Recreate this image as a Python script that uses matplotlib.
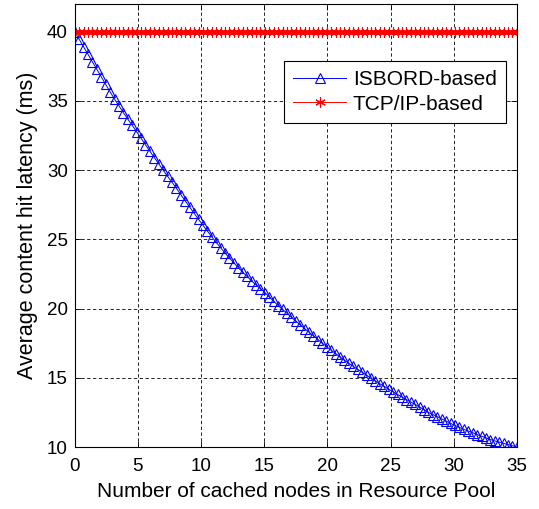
import numpy as np
import matplotlib
matplotlib.use("Agg")
import matplotlib.pyplot as plt

plt.rcParams["font.family"] = ["Liberation Sans", "DejaVu Sans"]

# cached nodes, 101 samples from 0 to 35
nodes = np.linspace(0, 35, 101)

isbord_latency = [
    40.00, 39.46, 38.92, 38.37, 37.83, 37.29, 36.75, 36.20, 35.66, 35.14,
    34.65, 34.16, 33.69, 33.24, 32.78, 32.31, 31.84, 31.37, 30.91, 30.46,
    30.00, 29.56, 29.13, 28.69, 28.23, 27.78, 27.33, 26.89, 26.45, 26.02,
    25.60, 25.18, 24.78, 24.40, 24.01, 23.65, 23.30, 22.95, 22.63, 22.32,
    22.00, 21.72, 21.44, 21.16, 20.84, 20.53, 20.22, 19.94, 19.66, 19.38,
    19.10, 18.82, 18.55, 18.29, 18.03, 17.76, 17.50, 17.24, 16.99, 16.75,
    16.50, 16.27, 16.05, 15.82, 15.61, 15.40, 15.19, 14.98, 14.77, 14.57,
    14.38, 14.18, 13.99, 13.80, 13.61, 13.43, 13.25, 13.08, 12.89, 12.69,
    12.50, 12.34, 12.19, 12.03, 11.87, 11.71, 11.56, 11.42, 11.28, 11.15,
    11.03, 10.90, 10.78, 10.66, 10.54, 10.44, 10.35, 10.26, 10.18, 10.09,
    10.00,
]
tcpip_latency = [40.0] * 101

x_ticks = [0, 5, 10, 15, 20, 25, 30, 35]
y_ticks = [10, 15, 20, 25, 30, 35, 40]

fig = plt.figure(figsize=(5.39, 5.09), dpi=100)
ax = fig.add_axes([0.1386, 0.1218, 0.8204, 0.8702])

ax.plot(nodes, isbord_latency, color="blue", lw=0.7, marker="^", ms=7.5,
        mfc="none", mec="blue", mew=0.8, label="ISBORD-based")
ax.plot(nodes, tcpip_latency, color="red", lw=0.7, marker=(6, 2, 0), ms=7.5,
        mec="red", mew=0.8, label="TCP/IP-based")

ax.set_xlim(0, 35)
ax.set_ylim(10, 42)
ax.set_xticks(x_ticks)
ax.set_yticks(y_ticks)
ax.tick_params(direction="in", top=True, right=True, length=4, labelsize=13.5,
               width=0.6, pad=5)
ax.tick_params(axis="x", pad=8)
ax.grid(True, color="black", linestyle=(0, (4, 3)), linewidth=0.6)
for s in ax.spines.values():
    s.set_linewidth(0.8)

ax.set_xlabel("Number of cached nodes in Resource Pool", fontsize=15, labelpad=5)
ax.set_ylabel("Average content hit latency (ms)", fontsize=15.5, labelpad=6)

leg = ax.legend(loc="upper right", bbox_to_anchor=(506 / 539, 1 - 61 / 509),
                bbox_transform=fig.transFigure, fontsize=15, fancybox=False,
                framealpha=1, edgecolor="black", handlelength=2.55,
                handletextpad=0.32, borderpad=0.45, labelspacing=0.25,
                borderaxespad=0)
leg.get_frame().set_linewidth(0.8)

fig.savefig("out.png", dpi=100)
